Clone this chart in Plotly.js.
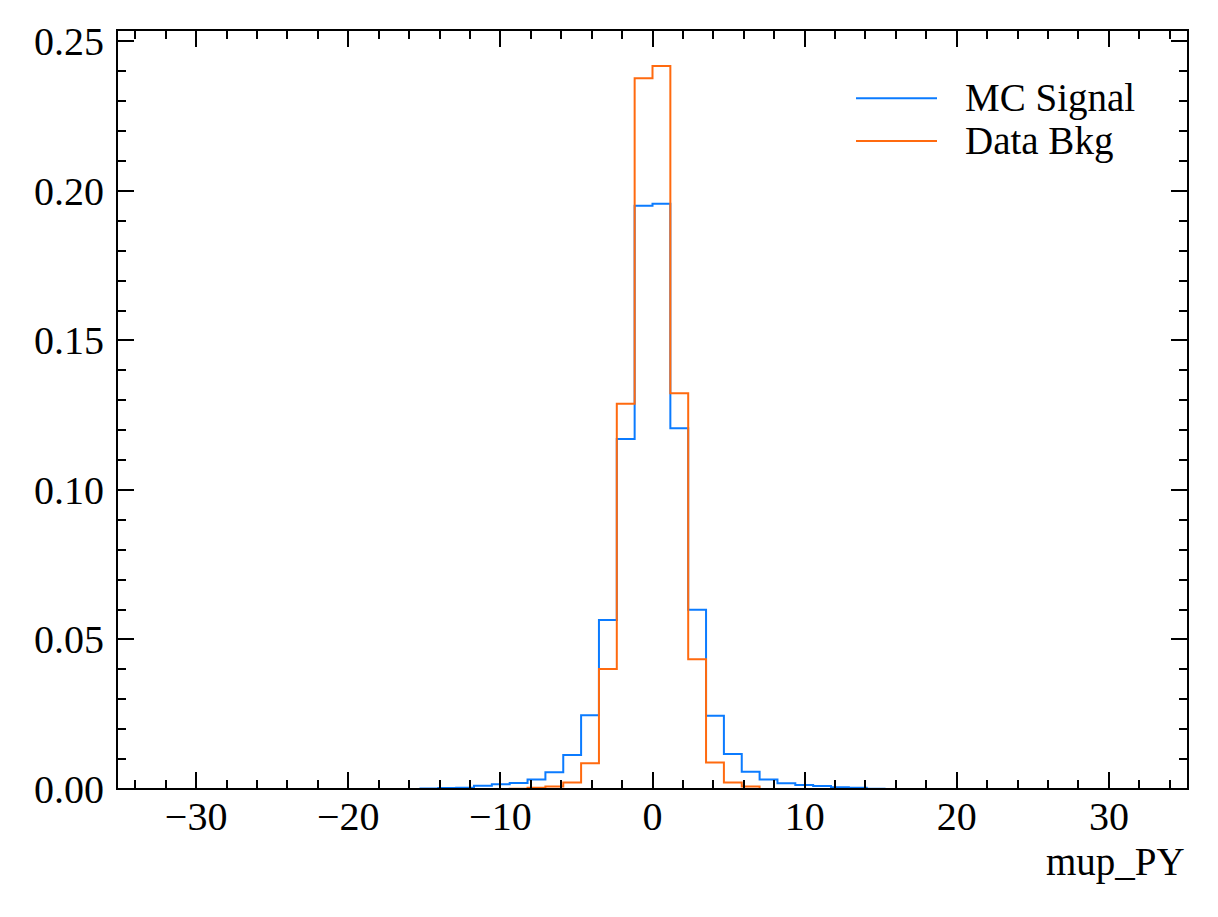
<!DOCTYPE html>
<html>
<head>
<meta charset="utf-8">
<script src="https://cdn.plot.ly/plotly-3.0.1.min.js"></script>
<style>html,body{margin:0;padding:0;background:#fff;}#chart{width:1218px;height:917px;}</style>
</head>
<body>
<div id="chart"></div>
<script>
// Histogram definition: 60 bins over [-35.2, 35.2]
const binLow = -35.2;
const binHigh = 35.2;
const nBins = 60;

// Density per bin (bin index 0..59)
const mcSignal = [
  0,0,0,0,0,0,0,0,0,0,
  0,0,0,0,0,0,0,0.0002,0.0003,0.0004,
  0.0011,0.0016,0.0020,0.0032,0.0056,0.0114,0.0247,0.0565,0.1170,0.1950,
  0.1957,0.1206,0.0599,0.0245,0.0117,0.0058,0.0032,0.0019,0.0013,0.0010,
  0.0006,0.0004,0.0001,0,0,0,0,0,0,0,
  0,0,0,0,0,0,0,0,0,0
];
const dataBkg = [
  0,0,0,0,0,0,0,0,0,0,
  0,0,0,0,0,0,0,0,0,0,
  0,0,0.0001,0.0004,0.0008,0.0022,0.0086,0.0401,0.1288,0.2377,
  0.2418,0.1323,0.0434,0.0089,0.0022,0.0008,0,0,0,0,
  0,0,0,0,0,0,0,0,0,0,
  0,0,0,0,0,0,0,0,0,0
];
const seriesNames = ["MC Signal", "Data Bkg"];
const xTitle = "mup_PY";
const yMax = 0.2538;

const binWidth = (binHigh - binLow) / nBins;
const edges = [];
for (let i = 0; i <= nBins; i++) edges.push(binLow + i * binWidth);
function stepY(vals) { return vals.concat([vals[vals.length - 1]]); }

const colors = ["#0b7bff", "#ff6a0f"];
const font = "Liberation Serif, Times New Roman, serif";

const traces = [
  {x: edges, y: stepY(mcSignal), type: "scatter", mode: "lines", line: {shape: "hv", color: colors[0], width: 2}, name: seriesNames[0], showlegend: false},
  {x: edges, y: stepY(dataBkg), type: "scatter", mode: "lines", line: {shape: "hv", color: colors[1], width: 2}, name: seriesNames[1], showlegend: false}
];

const axisCommon = {
  showgrid: false, zeroline: false, showline: false,
  mirror: "allticks", ticks: "inside", ticklen: 17, tickwidth: 2, tickcolor: "#000",
  layer: "above traces",
  tickfont: {family: font, size: 40, color: "#000"}
};

// plot area (frame lines are centred on its edges)
const L = 117, R = 1188, T = 30, B = 789;
function px(xp) { return (xp - L) / (R - L); }
function py(yp) { return 1 - (yp - T) / (B - T); }

const layout = {
  width: 1218, height: 917,
  margin: {l: L, r: 1218 - R, t: T, b: 917 - B, pad: 0},
  paper_bgcolor: "#fff", plot_bgcolor: "#fff",
  font: {family: font, color: "#000"},
  showlegend: false,
  xaxis: Object.assign({}, axisCommon, {
    range: [binLow, binHigh], tick0: 0, dtick: 10,
    minor: {ticks: "inside", ticklen: 9, tickwidth: 2, tickcolor: "#000", tick0: 0, dtick: 2},
    ticklabelstandoff: 0
  }),
  yaxis: Object.assign({}, axisCommon, {
    range: [0, yMax], tick0: 0, dtick: 0.05, tickformat: ".2f",
    minor: {ticks: "inside", ticklen: 9, tickwidth: 2, tickcolor: "#000", tick0: 0, dtick: 0.01},
    ticklabelstandoff: 12
  }),
  shapes: [
    {type: "rect", xref: "paper", yref: "paper", x0: 0, x1: 1, y0: 0, y1: 1, layer: "above", line: {color: "#000", width: 2}, fillcolor: "rgba(0,0,0,0)"},
    {type: "line", xref: "paper", yref: "paper", x0: px(856), x1: px(937), y0: py(98.3), y1: py(98.3), line: {color: colors[0], width: 2}},
    {type: "line", xref: "paper", yref: "paper", x0: px(856), x1: px(937), y0: py(141), y1: py(141), line: {color: colors[1], width: 2}}
  ],
  annotations: [
    {text: seriesNames[0], xref: "paper", yref: "paper", x: px(963), y: py(98.3), xanchor: "left", yanchor: "middle", showarrow: false, font: {family: font, size: 39, color: "#000"}},
    {text: seriesNames[1], xref: "paper", yref: "paper", x: px(963), y: py(141), xanchor: "left", yanchor: "middle", showarrow: false, font: {family: font, size: 39, color: "#000"}},
    {text: xTitle, xref: "paper", yref: "paper", x: px(1187), y: py(862), xanchor: "right", yanchor: "middle", showarrow: false, font: {family: font, size: 39, color: "#000"}}
  ]
};

Plotly.newPlot("chart", traces, layout, {displayModeBar: false, staticPlot: true});
</script>
</body>
</html>
